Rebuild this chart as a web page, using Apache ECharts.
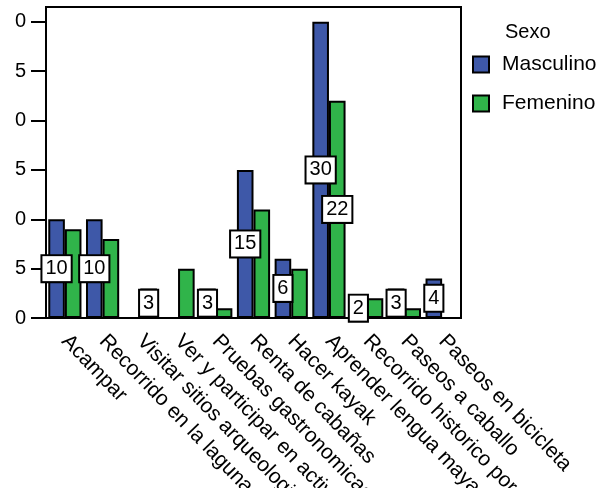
<!DOCTYPE html>
<html>
<head>
<meta charset="utf-8">
<script src="https://cdn.jsdelivr.net/npm/echarts@6/dist/echarts.min.js"></script>
<style>
  html, body { margin: 0; padding: 0; background: #fff; }
  #main { width: 615px; height: 488px; }
</style>
</head>
<body>
<div id="main"></div>
<script>
// categorias (actividades)
var categorias = [
    'Acampar',
    'Recorrido en la laguna',
    'Visitar sitios arqueologicos',
    'Ver y participar en actividades',
    'Pruebas gastronomicas',
    'Renta de cabañas',
    'Hacer kayak',
    'Aprender lengua maya',
    'Recorrido historico por la ciudad',
    'Paseos a caballo',
    'Paseos en bicicleta'
];
var masculino = [10, 10, 0, 0, 3, 15, 6, 30, 2, 3, 4];
var femenino = [9, 8, 3, 5, 1, 11, 5, 22, 2, 1, 0];
// etiquetas que se muestran en las barras de Femenino
var femeninoEtiquetas = [false, false, true, false, false, false, false, true, false, false, false];
var yTicks = [0, 5, 10, 15, 20, 25, 30];
var yTickLabels = ['0', '5', '0', '5', '0', '5', '0'];

var fuente = 'Liberation Sans';
var etiqueta = {
    show: true,
    position: 'inside',
    color: '#000',
    fontFamily: fuente,
    fontSize: 20,
    backgroundColor: '#fff',
    borderColor: '#000',
    borderWidth: 2,
    padding: [3, 3, 2, 3]
};

var myChart = echarts.init(document.getElementById('main'));
myChart.setOption({
    animation: false,
    title: {
        text: 'Sexo',
        left: 505,
        top: 22,
        padding: 0,
        textStyle: { fontFamily: fuente, fontSize: 20, fontWeight: 'normal', color: '#000' }
    },
    legend: {
        orient: 'vertical',
        left: 472,
        top: 54,
        padding: 0,
        itemWidth: 16,
        itemHeight: 16,
        itemGap: 18,
        icon: 'rect',
        data: ['Masculino', 'Femenino'],
        textStyle: { fontFamily: fuente, fontSize: 21, color: '#000', padding: [0, 0, 0, 8] }
    },
    grid: {
        left: 46,
        right: 154,
        top: 7,
        bottom: 170,
        show: true,
        borderColor: '#000',
        borderWidth: 2,
        containLabel: false,
        outerBoundsMode: 'none'
    },
    xAxis: {
        type: 'category',
        data: categorias,
        axisLine: { lineStyle: { color: '#000', width: 2 } },
        axisTick: { alignWithLabel: true, length: 15, lineStyle: { color: '#000', width: 2 } },
        axisLabel: {
            interval: 0,
            rotate: -46,
            margin: 20,
            color: '#000',
            fontFamily: fuente,
            fontSize: 21
        }
    },
    yAxis: {
        type: 'value',
        min: 0,
        max: 31.5,
        interval: 5,
        splitLine: { show: false },
        axisLine: { show: true, lineStyle: { color: '#000', width: 2 } },
        axisTick: { show: true, length: 15, customValues: yTicks, lineStyle: { color: '#000', width: 2 } },
        axisLabel: {
            customValues: yTicks,
            margin: 20,
            color: '#000',
            fontFamily: fuente,
            fontSize: 20,
            formatter: function (v) {
                return yTickLabels[Math.round(v / 5)];
            }
        }
    },
    series: [
        {
            name: 'Masculino',
            type: 'bar',
            barGap: '0%',
            barCategoryGap: '12%',
            itemStyle: { color: '#3e58a8', borderColor: '#000', borderWidth: 2 },
            data: masculino.map(function (v) {
                return { value: v, label: { show: v > 0 } };
            }),
            label: etiqueta
        },
        {
            name: 'Femenino',
            type: 'bar',
            barGap: '0%',
            barCategoryGap: '12%',
            itemStyle: { color: '#30b44a', borderColor: '#000', borderWidth: 2 },
            data: femenino.map(function (v, i) {
                return { value: v, label: { show: femeninoEtiquetas[i] } };
            }),
            label: etiqueta
        }
    ]
});
</script>
</body>
</html>
